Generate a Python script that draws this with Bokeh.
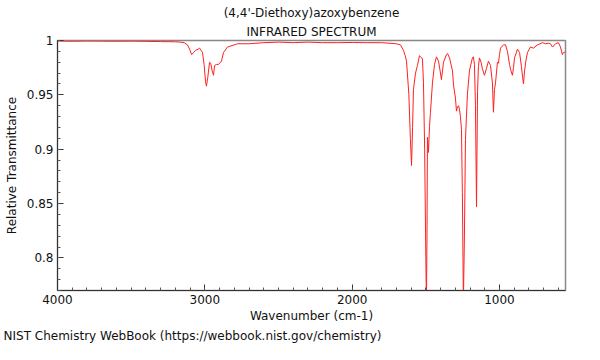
from bokeh.plotting import figure
from bokeh.models import Range1d, FixedTicker, CustomJSTickFormatter, Title
from bokeh.embed import file_html
from bokeh.resources import INLINE
import numpy as np

title_lines = ["(4,4'-Diethoxy)azoxybenzene", "INFRARED SPECTRUM"]
x_label = "Wavenumber (cm-1)"
y_label = "Relative Transmittance"
footer = "NIST Chemistry WebBook (https://webbook.nist.gov/chemistry)"

x_ticks = [1000, 2000, 3000, 4000]
y_ticks = [0.8, 0.85, 0.9, 0.95, 1.0]

wavenumber = [
    4000, 3900, 3800, 3700, 3600, 3500, 3400, 3300, 3200, 3165, 3140, 3118, 3100, 3090,
    3075, 3063, 3045, 3036, 3025, 3016, 3005, 2995, 2989, 2980, 2968, 2960, 2950, 2941,
    2934, 2920, 2907, 2887, 2873, 2846, 2800, 2778, 2700, 2600, 2500, 2400, 2300, 2200,
    2100, 2000, 1900, 1800, 1750, 1700, 1672, 1652, 1640, 1631, 1615, 1605, 1597, 1590,
    1584, 1570, 1557, 1543, 1535, 1523, 1516, 1508, 1500, 1496, 1492, 1489, 1482, 1475,
    1469, 1455, 1441, 1428, 1414, 1403, 1394, 1387, 1380, 1360, 1353, 1339, 1319, 1312,
    1299, 1292, 1285, 1278, 1272, 1265, 1258, 1252, 1245, 1238, 1231, 1218, 1204, 1184,
    1177, 1170, 1163, 1156, 1149, 1143, 1136, 1125, 1116, 1102, 1089, 1075, 1061, 1048,
    1041, 1034, 1027, 1014, 1007, 1000, 993, 973, 959, 946, 932, 922, 912, 905, 898, 878,
    864, 851, 843, 837, 830, 820, 810, 790, 769, 742, 708, 688, 665, 654, 640, 620, 600,
    586, 573, 565, 559, 552,
]
transmittance = [
    0.9995, 0.9993, 0.9995, 0.9994, 0.9993, 0.9994, 0.9992, 0.999, 0.9988, 0.9985, 0.998,
    0.996, 0.991, 0.987, 0.989, 0.991, 0.992, 0.993, 0.991, 0.989, 0.978, 0.962, 0.958,
    0.966, 0.980, 0.979, 0.972, 0.968, 0.977, 0.978, 0.978, 0.981, 0.989, 0.994, 0.996,
    0.997, 0.997, 0.998, 0.9985, 0.998, 0.9985, 0.998, 0.998, 0.9982, 0.998, 0.998,
    0.9975, 0.997, 0.996, 0.991, 0.986, 0.981, 0.95, 0.91, 0.885, 0.92, 0.955, 0.970,
    0.977, 0.986, 0.985, 0.983, 0.961, 0.90, 0.80, 0.76, 0.82, 0.911, 0.897, 0.921,
    0.933, 0.961, 0.978, 0.985, 0.981, 0.972, 0.964, 0.972, 0.980, 0.987, 0.988, 0.984,
    0.972, 0.959, 0.947, 0.935, 0.939, 0.940, 0.937, 0.93, 0.918, 0.86, 0.76, 0.82,
    0.909, 0.950, 0.972, 0.984, 0.985, 0.978, 0.94, 0.847, 0.953, 0.976, 0.984, 0.980,
    0.974, 0.968, 0.974, 0.981, 0.977, 0.961, 0.934, 0.955, 0.961, 0.980, 0.979, 0.987,
    0.993, 0.996, 0.996, 0.990, 0.978, 0.972, 0.968, 0.975, 0.984, 0.992, 0.989, 0.976,
    0.966, 0.960, 0.972, 0.982, 0.989, 0.994, 0.993, 0.996, 0.998, 0.997, 0.9975, 0.997,
    0.994, 0.997, 0.998, 0.994, 0.987, 0.989, 0.989, 0.990,
]

FONT = "DejaVu Sans"
TXT = "#111111"

p = figure(width=584, height=344, output_backend="svg", toolbar_location=None, title=None,
           x_range=Range1d(4000, 552), y_range=Range1d(0.77, 1.0),
           min_border_left=57, min_border_right=19, min_border_top=40, min_border_bottom=51)

p.line(wavenumber, transmittance, line_color="#ff2020", line_width=1)

# title lines: the first added sits nearest the plot
p.add_layout(Title(text=title_lines[1], align="center", text_font=FONT, text_font_size="12px",
                   text_font_style="normal", text_color=TXT, standoff=4), "above")
p.add_layout(Title(text=title_lines[0], align="center", text_font=FONT, text_font_size="12px",
                   text_font_style="normal", text_color=TXT, standoff=2), "above")

p.xgrid.visible = False
p.ygrid.visible = False
p.outline_line_color = "#888888"
p.outline_line_width = 1.5

for ax in (p.xaxis[0], p.yaxis[0]):
    ax.axis_line_color = "#333333"
    ax.major_tick_line_color = "#333333"
    ax.minor_tick_line_color = "#555555"
    ax.major_tick_in = 6
    ax.major_tick_out = 0
    ax.minor_tick_in = 3
    ax.minor_tick_out = 0
    ax.major_label_text_font = FONT
    ax.major_label_text_font_size = "12px"
    ax.major_label_text_color = TXT
    ax.axis_label_text_font = FONT
    ax.axis_label_text_font_size = "12px"
    ax.axis_label_text_font_style = "normal"
    ax.axis_label_text_color = TXT
    ax.major_label_standoff = 4
    ax.formatter = CustomJSTickFormatter(code="return String(Math.round(tick*100)/100);")

p.xaxis[0].ticker = FixedTicker(ticks=x_ticks, minor_ticks=list(range(600, 4001, 100)))
p.yaxis[0].ticker = FixedTicker(ticks=y_ticks,
                                minor_ticks=[round(v, 2) for v in np.arange(0.77, 1.0001, 0.01)])
p.xaxis[0].axis_label = x_label
p.yaxis[0].axis_label = y_label
p.xaxis[0].axis_label_standoff = 2
p.yaxis[0].axis_label_standoff = 5

p.add_layout(Title(text=footer, align="left", offset=-54, text_font=FONT, text_font_size="12px",
                   text_font_style="normal", text_color=TXT, standoff=3), "below")

open("out.html", "w").write(file_html(p, INLINE))
